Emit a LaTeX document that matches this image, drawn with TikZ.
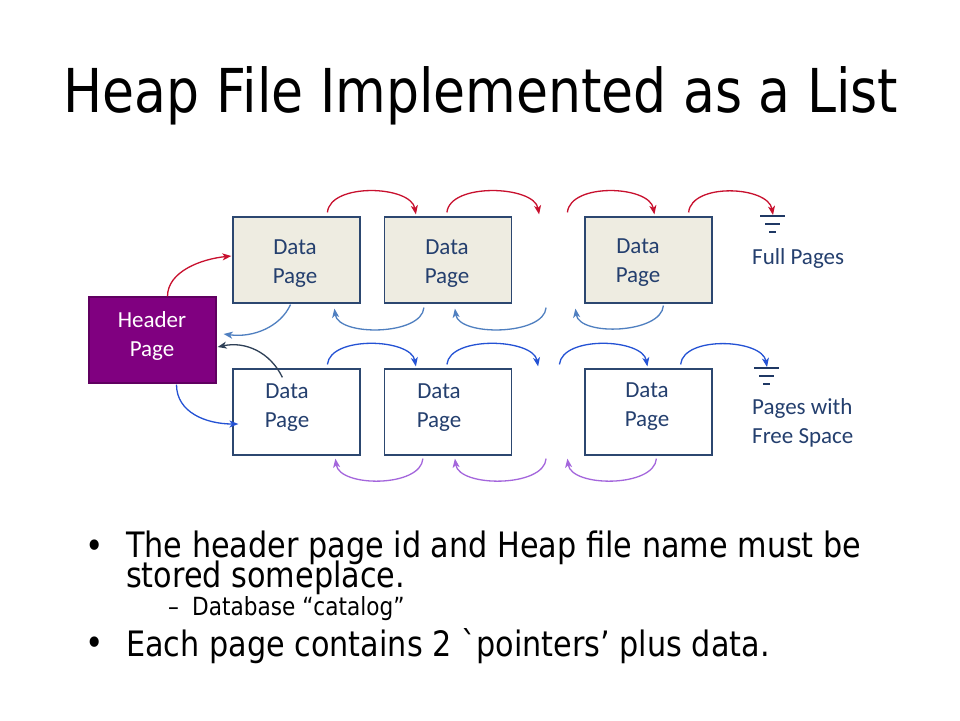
\documentclass[tikz,border=0pt]{standalone}
\usepackage{fontspec}
\setmainfont{Carlito}
\newfontfamily\titlefont[FakeStretch=0.86]{DejaVu Sans}
\newfontfamily\bodyfont[FakeStretch=0.865]{DejaVu Sans}
\usetikzlibrary{arrows.meta,calc}

\definecolor{pagefill}{HTML}{EEECE1}
\definecolor{pageborder}{HTML}{2C4770}
\definecolor{headerpurple}{HTML}{800080}
\definecolor{labelblue}{HTML}{243F6E}
\definecolor{fullred}{HTML}{C8102E}
\definecolor{fullback}{HTML}{4F7FC0}
\definecolor{freefwd}{HTML}{2452D4}
\definecolor{freeback}{HTML}{A466DC}
\definecolor{hdrback}{HTML}{2E4057}
\definecolor{groundcol}{HTML}{1F3864}

\tikzset{
  pagebox/.style={draw=pageborder, line width=1.2pt, minimum width=127pt,
    minimum height=86pt, inner sep=0pt},
  fullpage/.style={pagebox, fill=pagefill},
  freepage/.style={pagebox, fill=white},
  headerbox/.style={pagebox, fill=headerpurple, draw=headerpurple!75!black},
  pagelabel/.style={font=\fontsize{23}{29}\selectfont, text=labelblue,
    align=center, inner sep=0pt},
  sidelabel/.style={font=\fontsize{23}{29}\selectfont, text=labelblue,
    align=left, inner sep=0pt, anchor=west},
  ptr/.style={line width=1.3pt, -{Stealth[length=9pt,width=7pt,inset=2.5pt]}},
  fwdfull/.style={ptr, draw=fullred},
  backfull/.style={ptr, draw=fullback},
  fwdfree/.style={ptr, draw=freefwd},
  backfree/.style={ptr, draw=freeback},
  backhdr/.style={ptr, draw=hdrback},
  ground/.style={draw=groundcol, line width=1.2pt},
  bodyline/.style={anchor=base west, inner sep=0pt, align=left,
    font=\bodyfont\fontsize{35}{28}\selectfont},
  subline/.style={anchor=base west, inner sep=0pt,
    font=\bodyfont\fontsize{25}{25}\selectfont},
  bulletmark/.style={anchor=base, inner sep=0pt,
    font=\bodyfont\fontsize{36}{36}\selectfont},
}

\begin{document}
\begin{tikzpicture}[x=1pt, y=-1pt]
\useasboundingbox[fill=white] (0,0) rectangle (960,720);

% title
\node[anchor=base, inner sep=0pt, font=\titlefont\fontsize{60.5}{60}\selectfont]
  (title) at (481,112) {Heap File Implemented as a List};

% header page and the two lists of data pages
\node[headerbox] (hdr) at (152.5,340) {};
\node[fullpage] (t1) at (296.5,260) {};
\node[fullpage] (t2) at (448,260) {};
\node[fullpage] (t3) at (648.5,260) {};
\node[freepage] (b1) at (296.5,412) {};
\node[freepage] (b2) at (448,412) {};
\node[freepage] (b3) at (648.5,412) {};

\node[pagelabel, text=white] (hdrtext) at (152,336) {Header\\Page};
\node[pagelabel] (t1text) at (295,264) {Data\\Page};
\node[pagelabel] (t2text) at (447,264) {Data\\Page};
\node[pagelabel] (t3text) at (638,263) {Data\\Page};
\node[pagelabel] (b1text) at (287,408) {Data\\Page};
\node[pagelabel] (b2text) at (439,408) {Data\\Page};
\node[pagelabel] (b3text) at (647,407) {Data\\Page};

% list ends
\coordinate (gfull) at (773,215);
\coordinate (gfree) at (767,367);
\foreach \g in {gfull,gfree}{
  \draw[ground] ($(\g)+(-13,1)$) -- ($(\g)+(12,1)$);
  \draw[ground] ($(\g)+(-8,9)$) -- ($(\g)+(7,9)$);
  \draw[ground] ($(\g)+(-4,17)$) -- ($(\g)+(3,17)$);
}
\node[sidelabel] (fulllbl) at (752,258) {Full Pages};
\node[sidelabel] (freelbl) at (752,423) {Pages with\\Free Space};

% full pages: next pointers
\draw[fwdfull] ($(hdr.north)+(15,0)$) .. controls +(0,-25) and +(-30,3) .. ($(t1.west)+(-1,-4)$);
\draw[fwdfull] ($(t1.north west)+(95,-4)$) .. controls +(3,-30) and +(-5,-29) .. ($(t2.north west)+(32,-2)$);
\draw[fwdfull] ($(t2.north west)+(63,-4)$) .. controls +(3,-30) and +(-5,-29) .. ($(t2.north east)+(27,-2)$);
\draw[fwdfull] ($(t3.north west)+(-17,-4)$) .. controls +(3,-30) and +(-5,-29) .. ($(t3.north west)+(70,-2)$);
\draw[fwdfull] ($(t3.north east)+(-24,-4)$) .. controls +(3,-30) and +(-5,-29) .. (gfull);

% full pages: previous pointers
\draw[backfull] ($(t1.south)+(-6,1)$) .. controls +(-10,22) and +(30,4) .. ($(hdr.east)+(7,-6)$);
\draw[backfull] ($(t2.south west)+(40,4)$) .. controls +(-2,28) and +(4,28) .. ($(t1.south west)+(102,5)$);
\draw[backfull] ($(t2.south east)+(34,4)$) .. controls +(-2,28) and +(4,28) .. ($(t2.south west)+(71,5)$);
\draw[backfull] ($(t3.south west)+(79,2)$) .. controls +(-2,28) and +(4,28) .. ($(t3.south west)+(-9,5)$);

% pages with free space: next pointers
\draw[fwdfree] ($(hdr.south)+(24,1)$) .. controls +(0,28) and +(-32,0) .. ($(b1.west)+(6,12)$);
\draw[fwdfree] ($(b1.north west)+(95,-4)$) .. controls +(3,-29) and +(-5,-28) .. ($(b2.north west)+(32,-2)$);
\draw[fwdfree] ($(b2.north west)+(63,-4)$) .. controls +(3,-29) and +(-5,-28) .. ($(b2.north east)+(26,-2)$);
\draw[fwdfree] ($(b3.north west)+(-25,-4)$) .. controls +(3,-29) and +(-5,-28) .. ($(b3.north west)+(63,-2)$);
\draw[fwdfree] ($(b3.north east)+(-32,-4)$) .. controls +(3,-29) and +(-5,-28) .. (gfree);

% pages with free space: previous pointers
\draw[backhdr] ($(b1.north west)+(50,9)$) .. controls +(-12,-25) and +(28,-6) .. ($(hdr.east)+(1,7)$);
\draw[backfree] ($(b2.south west)+(39,3)$) .. controls +(-2,29) and +(4,29) .. ($(b1.south west)+(103,3)$);
\draw[backfree] ($(b2.south east)+(34,3)$) .. controls +(-2,29) and +(4,29) .. ($(b2.south west)+(71,3)$);
\draw[backfree] ($(b3.south west)+(72,3)$) .. controls +(-2,29) and +(4,29) .. ($(b3.south west)+(-17,3)$);

% notes
\node[bulletmark] (m1) at (95,558) {•};
\node[bodyline] (l1) at (126,587) {The header page id and Heap file name must be\\[-5pt]stored someplace.};
\node[subline] (l3a) at (168,615) {–};
\node[subline] (l3b) at (192,615) {Database “catalog”};
\node[bulletmark] (m2) at (95,655) {•};
\node[bodyline] (l4) at (126,656) {Each page contains 2 `pointers’ plus data.};
\end{tikzpicture}
\end{document}
